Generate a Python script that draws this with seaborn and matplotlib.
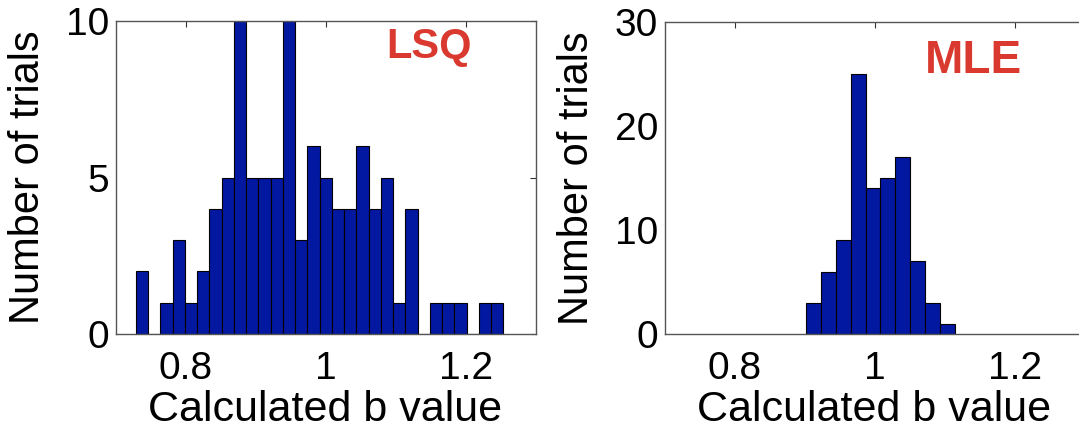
import numpy as np
import pandas as pd
import seaborn as sns
import matplotlib.pyplot as plt

# LSQ histogram: 30 bins between min and max estimate
lsq_edges = np.linspace(0.7283, 1.2532, 31)
lsq_counts = [2, 0, 1, 3, 1, 2, 4, 5, 10, 5, 5, 5, 10, 3, 6,
              5, 4, 4, 6, 4, 5, 1, 4, 0, 1, 1, 1, 0, 1, 1]

# MLE histogram: 10 bins
mle_edges = np.linspace(0.9016, 1.1137, 11)
mle_counts = [3, 6, 9, 25, 14, 15, 17, 7, 3, 1]

x_ticks = [0.8, 1.0, 1.2]
x_ticklabels = ['0.8', '1', '1.2']
lsq_yticks = [0, 5, 10]
mle_yticks = [0, 10, 20, 30]

bar_color = '#0318a0'
label_red = '#d9392f'

sns.set_style("white")
plt.rcParams['font.family'] = ['Liberation Sans', 'DejaVu Sans']
plt.rcParams['text.color'] = 'black'
plt.rcParams['axes.labelcolor'] = 'black'

fig = plt.figure(figsize=(10.79, 4.29), dpi=100)
ax1 = fig.add_axes([0.1075, 0.2214, 0.3893, 0.7296])
ax2 = fig.add_axes([0.6163, 0.2214, 0.3893, 0.7273])


def centers(edges):
    return (edges[:-1] + edges[1:]) / 2


def draw(ax, edges, counts, ylim, yticks, tag, tag_xy, tag_size):
    df = pd.DataFrame({'b': centers(edges), 'n': counts})
    sns.histplot(data=df, x='b', weights='n', bins=list(edges), ax=ax,
                 color=bar_color, edgecolor='black', linewidth=0.8,
                 alpha=1.0, legend=False)
    ax.set_xlim(0.7, 1.3)
    ax.set_ylim(*ylim)
    ax.set_xticks(x_ticks)
    ax.set_xticklabels(x_ticklabels)
    ax.set_yticks(yticks)
    ax.tick_params(direction='in', length=4, width=0.8, color='#333333',
                   labelcolor='black', labelsize=28, top=True, right=True,
                   pad=5)
    ax.tick_params(axis='x', pad=12)
    for s in ax.spines.values():
        s.set_color('#555555')
        s.set_linewidth(1.0)
    ax.set_xlabel('Calculated b value', fontsize=31)
    ax.set_ylabel('Number of trials', fontsize=30)
    ax.xaxis.set_label_coords(0.498, -0.278)
    ax.xaxis.label.set_va('baseline')
    ax.yaxis.set_label_coords(-0.209, 0.5)
    ax.yaxis.label.set_va('center')
    ax.text(tag_xy[0], tag_xy[1], tag, color=label_red, fontsize=tag_size,
            fontweight='bold', ha='center', va='center')


draw(ax1, lsq_edges, lsq_counts, (0, 10), lsq_yticks, 'LSQ', (1.147, 9.17), 30)
draw(ax2, mle_edges, mle_counts, (0, 30), mle_yticks, 'MLE', (1.14, 26.25), 33)

fig.savefig('out.png', dpi=100)
